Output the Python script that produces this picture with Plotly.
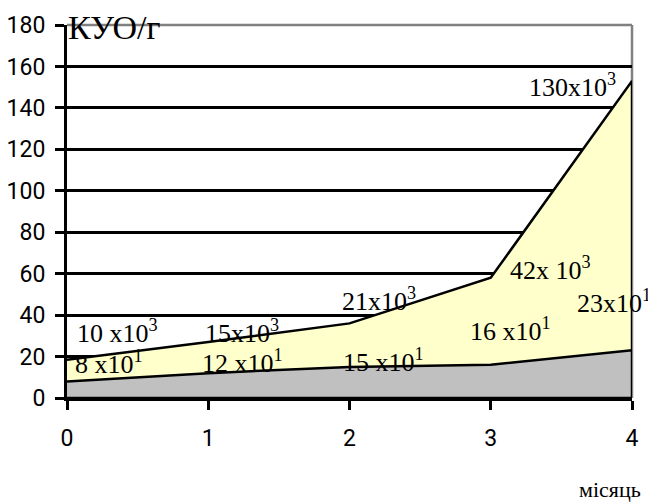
import plotly.graph_objects as go

months = [0, 1, 2, 3, 4]
total_values = [18.4, 27, 36, 58, 153]
lower_values = [8, 12, 15, 16, 23]

label_texts = ["10 x10<sup>3</sup>", "8 x10<sup>1</sup>", "15x10<sup>3</sup>", "12 x10<sup>1</sup>",
               "21x10<sup>3</sup>", "15 x10<sup>1</sup>", "42x 10<sup>3</sup>", "16 x10<sup>1</sup>",
               "23x10<sup>1</sup>", "130x10<sup>3</sup>"]
label_x = [0.354, 0.30, 1.24, 1.24, 2.21, 2.24, 3.42, 3.14, 3.87, 3.58]
label_y = [32.3, 16.9, 32.3, 17.4, 47.3, 17.9, 62.3, 33.3, 46.8, 150.6]

y_ticks = list(range(0, 181, 20))

fig = go.Figure()
fig.add_trace(go.Scatter(
    x=months + [months[-1], months[0]],
    y=total_values + [0, 0],
    fill="toself", fillcolor="#FFFFCC",
    mode="lines", line=dict(color="black", width=2.5),
    hoverinfo="skip", showlegend=False))
fig.add_trace(go.Scatter(
    x=months + [months[-1], months[0]],
    y=lower_values + [0, 0],
    fill="toself", fillcolor="#C0C0C0",
    mode="lines", line=dict(color="black", width=2.5),
    hoverinfo="skip", showlegend=False))

serif = "Liberation Serif, Times New Roman, serif"
for t, x, y in zip(label_texts, label_x, label_y):
    fig.add_annotation(x=x, y=y, text=t, showarrow=False, borderpad=0,
                       font=dict(family=serif, size=26, color="black"))

fig.add_annotation(x=0.0, y=1.0, xref="paper", yref="paper", xanchor="left", yanchor="middle",
                   xshift=0, yshift=-2, text="КУО/г", showarrow=False, borderpad=0,
                   font=dict(family=serif, size=34, color="black"))
fig.add_annotation(x=1.0, y=0, xref="paper", yref="paper", xanchor="right", yanchor="middle",
                   xshift=10, yshift=-91, text="місяць", showarrow=False, borderpad=0,
                   font=dict(family=serif, size=22, color="black"))

# plot-area frame (top and right), grey
fig.add_shape(type="line", xref="paper", yref="paper", x0=0, x1=1, y0=1, y1=1,
              line=dict(color="#808080", width=2.5), layer="above")
fig.add_shape(type="line", xref="paper", yref="paper", x0=1, x1=1, y0=0, y1=1,
              line=dict(color="#808080", width=2.5), layer="between")

tickfont = dict(family="Roboto, DejaVu Sans, sans-serif", size=23, color="black")
fig.update_layout(
    width=656, height=502,
    margin=dict(l=59, r=32, t=17, b=112),
    paper_bgcolor="white", plot_bgcolor="white",
    xaxis=dict(range=[0, 4], tickvals=months, showgrid=False, zeroline=False, automargin=False,
               showline=True, linecolor="black", linewidth=3,
               ticks="outside", ticklen=9, tickwidth=2.5, tickcolor="black",
               tickfont=tickfont, ticklabelstandoff=8),
    yaxis=dict(range=[0, 180], tickvals=y_ticks, showgrid=True, gridcolor="black", gridwidth=2.5,
               zeroline=False, showline=True, linecolor="black", linewidth=3, automargin=False,
               ticks="outside", ticklen=9, tickwidth=2.5, tickcolor="black",
               tickfont=tickfont, ticklabelstandoff=5),
)

fig.write_html("out.html")
